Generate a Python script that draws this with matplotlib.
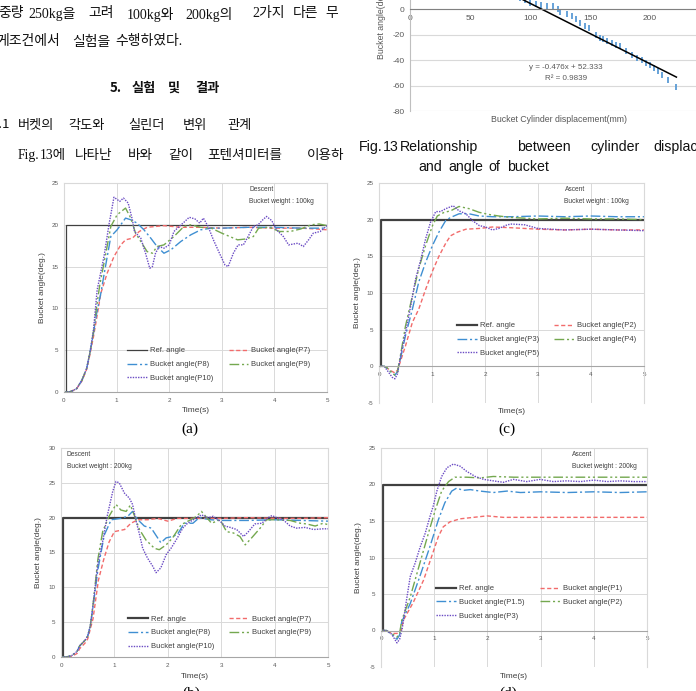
import matplotlib
matplotlib.use('Agg')
import matplotlib.pyplot as plt
import numpy as np

# 참조 값
ref_t = [0, 0.03, 0.03, 5]
ref_y = [0, 0, 20, 20]

# (a) Descent, 100kg
a_t_p7 = [0, 0.1, 0.18, 0.24, 0.34, 0.43, 0.49, 0.56, 0.62, 0.7, 0.82, 0.95, 1.08, 1.17, 1.3, 1.43, 1.58, 1.9, 2.22, 2.6, 3.0, 3.5, 4.0, 4.5, 4.8, 5.0]
a_p7 = [0, 0, 0.2, 0.4, 1.3, 2.7, 4.4, 6.6, 8.8, 11.8, 14.2, 16.2, 17.6, 18.2, 18.4, 19.2, 19.7, 19.9, 19.7, 19.7, 19.6, 19.7, 19.6, 19.6, 19.5, 19.4]
a_t_p8 = [0, 0.1, 0.18, 0.24, 0.34, 0.43, 0.49, 0.56, 0.62, 0.7, 0.76, 0.89, 1.01, 1.17, 1.27, 1.39, 1.52, 1.65, 1.77, 1.9, 2.03, 2.22, 2.41, 2.6, 2.8, 3.0, 3.5, 4.0, 4.5, 5.0]
a_p8 = [0, 0, 0.2, 0.4, 1.4, 2.8, 4.6, 7.0, 9.4, 11.8, 14.0, 18.6, 19.4, 20.8, 20.6, 20.2, 19.4, 18.4, 17.4, 16.6, 17.0, 18.0, 18.8, 19.4, 19.6, 19.6, 19.7, 19.7, 19.6, 19.6]
a_t_p9 = [0, 0.1, 0.18, 0.24, 0.34, 0.43, 0.49, 0.56, 0.62, 0.68, 0.76, 0.89, 1.01, 1.17, 1.27, 1.36, 1.46, 1.58, 1.68, 1.77, 1.9, 2.09, 2.28, 2.41, 2.6, 2.8, 3.0, 3.15, 3.3, 3.45, 3.6, 3.7, 3.9, 4.1, 4.3, 4.5, 4.7, 4.85, 5.0]
a_p9 = [0, 0, 0.2, 0.4, 1.4, 2.8, 4.6, 7.2, 10.2, 12.8, 15.4, 19.8, 21.2, 22.0, 20.8, 19.0, 18.0, 16.8, 16.6, 17.4, 17.6, 18.6, 19.8, 20.0, 19.7, 19.6, 19.0, 18.6, 18.2, 18.3, 18.6, 19.6, 19.7, 19.2, 19.2, 19.5, 20.0, 20.1, 19.9]
a_t_p10 = [0, 0.1, 0.18, 0.24, 0.34, 0.43, 0.49, 0.56, 0.63, 0.76, 0.86, 0.95, 1.06, 1.13, 1.22, 1.3, 1.34, 1.46, 1.55, 1.63, 1.68, 1.74, 1.81, 1.9, 2.0, 2.09, 2.19, 2.28, 2.38, 2.49, 2.58, 2.65, 2.74, 2.84, 2.97, 3.06, 3.12, 3.22, 3.31, 3.41, 3.5, 3.6, 3.69, 3.78, 3.85, 3.95, 4.04, 4.17, 4.27, 4.36, 4.45, 4.55, 4.65, 4.74, 4.87, 5.0]
a_p10 = [0, 0, 0.2, 0.4, 1.4, 2.8, 4.6, 7.4, 12.2, 16.2, 20.2, 23.3, 22.8, 23.2, 22.6, 20.6, 19.2, 18.4, 16.6, 14.8, 15.0, 16.6, 17.4, 17.2, 17.6, 19.2, 19.8, 20.3, 20.9, 20.7, 20.2, 20.8, 19.8, 18.2, 16.4, 15.2, 15.0, 16.6, 17.6, 17.6, 18.6, 19.8, 20.0, 20.6, 21.0, 20.5, 19.4, 18.6, 17.6, 17.7, 17.8, 17.4, 18.2, 19.0, 19.2, 19.9]

# (b) Descent, 200kg
b_t_p7 = [0, 0.1, 0.2, 0.3, 0.35, 0.45, 0.5, 0.6, 0.7, 0.8, 0.9, 1.0, 1.19, 1.31, 1.44, 1.62, 1.81, 2.0, 2.18, 2.5, 3.0, 3.5, 4.0, 4.5, 5.0]
b_p7 = [0, 0, 0.1, 0.5, 1.2, 2.0, 2.6, 5.5, 11.0, 14.0, 16.5, 18.0, 18.3, 19.2, 19.7, 19.7, 19.9, 19.5, 19.9, 19.9, 19.9, 20.0, 19.9, 19.9, 20.0]
b_t_p8 = [0, 0.1, 0.2, 0.3, 0.35, 0.45, 0.5, 0.55, 0.6, 0.69, 0.81, 0.94, 1.12, 1.25, 1.34, 1.44, 1.56, 1.69, 1.81, 1.87, 1.97, 2.09, 2.18, 2.31, 2.47, 2.59, 2.8, 3.0, 3.5, 4.0, 4.5, 5.0]
b_p8 = [0, 0, 0.2, 0.8, 1.6, 2.4, 3.0, 4.5, 7.2, 12.5, 17.5, 19.7, 19.9, 20.2, 20.9, 19.7, 18.8, 18.5, 17.1, 16.4, 17.1, 17.3, 17.6, 19.2, 19.2, 20.0, 19.7, 19.6, 19.6, 19.7, 19.6, 19.5]
b_t_p9 = [0, 0.1, 0.2, 0.3, 0.35, 0.45, 0.5, 0.55, 0.6, 0.69, 0.78, 0.9, 1.03, 1.12, 1.22, 1.3, 1.37, 1.47, 1.59, 1.75, 1.84, 1.97, 2.09, 2.25, 2.43, 2.54, 2.63, 2.73, 2.82, 2.98, 3.1, 3.23, 3.35, 3.45, 3.57, 3.73, 3.85, 4.04, 4.29, 4.48, 4.6, 4.76, 4.91, 5.0]
b_p9 = [0, 0, 0.2, 0.8, 1.6, 2.4, 3.0, 4.5, 7.5, 14.0, 18.0, 20.2, 21.9, 21.1, 20.9, 21.8, 20.4, 18.3, 16.8, 15.6, 15.4, 16.1, 17.1, 19.0, 19.7, 20.2, 20.9, 20.0, 19.2, 19.7, 18.0, 17.8, 17.3, 16.1, 17.1, 18.5, 19.7, 19.7, 19.6, 19.2, 19.1, 18.8, 19.2, 19.0]
b_t_p10 = [0, 0.1, 0.2, 0.3, 0.35, 0.45, 0.5, 0.55, 0.6, 0.69, 0.78, 0.87, 0.97, 1.03, 1.09, 1.19, 1.28, 1.34, 1.4, 1.47, 1.53, 1.62, 1.72, 1.78, 1.87, 1.97, 2.06, 2.18, 2.28, 2.37, 2.54, 2.63, 2.76, 2.85, 2.98, 3.07, 3.17, 3.29, 3.42, 3.51, 3.63, 3.76, 3.88, 3.95, 4.04, 4.16, 4.29, 4.41, 4.57, 4.73, 4.91, 5.0]
b_p10 = [0, 0, 0.2, 0.8, 1.6, 2.4, 3.0, 4.5, 7.5, 13.3, 16.6, 20.4, 23.8, 25.2, 25.0, 23.5, 22.8, 21.9, 19.7, 17.6, 15.6, 14.2, 13.0, 12.1, 12.8, 14.7, 15.6, 17.1, 18.5, 19.2, 20.0, 20.4, 20.0, 20.2, 19.5, 18.8, 18.6, 18.3, 17.3, 18.0, 19.1, 19.2, 20.0, 20.3, 20.0, 19.7, 18.8, 18.5, 18.6, 18.3, 18.4, 18.4]

# (c) Ascent, 100kg
c_t_p2 = [0, 0.1, 0.15, 0.2, 0.3, 0.35, 0.41, 0.5, 0.63, 0.75, 0.88, 1.01, 1.13, 1.26, 1.35, 1.48, 1.64, 1.89, 2.14, 2.5, 3.0, 3.5, 4.0, 4.5, 5.0]
c_p2 = [0, 0, -0.2, -0.5, -0.9, -0.5, 0.8, 2.8, 6.0, 7.8, 10.5, 13.0, 15.0, 16.8, 17.8, 18.3, 18.7, 18.8, 19.0, 18.9, 18.7, 18.6, 18.7, 18.6, 18.6]
c_t_p3 = [0, 0.1, 0.15, 0.2, 0.3, 0.35, 0.41, 0.5, 0.63, 0.75, 0.88, 1.01, 1.13, 1.26, 1.35, 1.51, 1.7, 1.89, 2.14, 2.5, 3.0, 3.5, 4.0, 4.5, 5.0]
c_p3 = [0, 0, -0.2, -0.6, -1.2, -0.7, 1.2, 4.2, 7.8, 11.5, 14.2, 16.5, 18.3, 19.9, 20.3, 20.8, 20.8, 20.5, 20.4, 20.4, 20.5, 20.4, 20.5, 20.4, 20.4]
c_t_p4 = [0, 0.1, 0.15, 0.2, 0.3, 0.35, 0.41, 0.5, 0.63, 0.75, 0.88, 1.01, 1.1, 1.23, 1.35, 1.51, 1.7, 1.89, 2.08, 2.26, 2.5, 3.0, 3.5, 4.0, 4.5, 5.0]
c_p4 = [0, 0, -0.2, -0.6, -1.2, -0.7, 1.7, 5.5, 9.6, 13.3, 16.5, 19.2, 20.5, 21.0, 21.2, 21.8, 21.5, 21.0, 20.7, 20.5, 20.3, 20.1, 20.2, 20.1, 20.1, 20.0]
c_t_p5 = [0, 0.1, 0.16, 0.25, 0.3, 0.35, 0.41, 0.5, 0.6, 0.69, 0.79, 0.88, 0.97, 1.07, 1.16, 1.26, 1.33, 1.4, 1.51, 1.64, 1.76, 1.89, 2.01, 2.14, 2.26, 2.42, 2.5, 2.75, 2.9, 3.0, 3.5, 4.0, 4.5, 5.0]
c_p5 = [0, 0, -0.6, -1.5, -1.7, -1.0, 1.5, 4.6, 8.3, 11.9, 14.6, 17.4, 19.6, 21.1, 21.1, 21.5, 21.7, 21.9, 21.2, 20.8, 19.9, 19.2, 19.0, 18.6, 18.8, 19.3, 19.4, 19.3, 19.0, 18.8, 18.6, 18.7, 18.6, 18.5]

# (d) Ascent, 200kg
d_t_p1 = [0, 0.1, 0.15, 0.2, 0.3, 0.38, 0.42, 0.61, 0.8, 0.95, 1.08, 1.17, 1.3, 1.49, 1.74, 1.99, 2.3, 3.0, 3.5, 4.0, 4.5, 5.0]
d_p1 = [0, 0, -0.2, -0.4, -0.4, 0, 1.4, 3.9, 6.9, 10.1, 12.9, 14.2, 14.9, 15.3, 15.5, 15.7, 15.5, 15.5, 15.5, 15.5, 15.5, 15.5]
d_t_p15 = [0, 0.1, 0.2, 0.3, 0.35, 0.39, 0.55, 0.73, 0.92, 1.08, 1.2, 1.33, 1.42, 1.55, 1.68, 1.86, 2.11, 2.37, 2.62, 3.0, 3.5, 4.0, 4.5, 5.0]
d_p15 = [0, 0, -0.5, -1.2, -0.6, 1.2, 3.7, 7.4, 11.5, 15.2, 17.5, 19.1, 19.5, 19.2, 19.3, 19.1, 18.9, 19.1, 18.9, 19.0, 18.9, 19.0, 18.9, 19.0]
d_t_p2 = [0, 0.1, 0.2, 0.3, 0.35, 0.39, 0.55, 0.73, 0.89, 1.02, 1.14, 1.27, 1.39, 1.61, 1.86, 2.11, 2.5, 3.0, 3.5, 4.0, 4.5, 5.0]
d_p2 = [0, 0, -0.4, -0.9, -0.4, 1.4, 4.6, 9.2, 13.3, 16.5, 19.1, 20.4, 21.0, 21.0, 20.9, 21.1, 21.0, 21.0, 21.0, 21.0, 21.0, 21.0]
d_t_p3 = [0, 0.1, 0.2, 0.3, 0.35, 0.4, 0.48, 0.55, 0.64, 0.73, 0.83, 0.92, 0.98, 1.05, 1.14, 1.24, 1.36, 1.49, 1.61, 1.77, 1.93, 2.11, 2.3, 2.49, 2.74, 2.99, 3.24, 3.49, 3.75, 4.0, 4.25, 4.5, 4.75, 5.0]
d_p3 = [0, 0, -0.5, -1.7, -1.2, 0.3, 4.2, 7.4, 9.2, 11.3, 13.3, 15.6, 17.0, 19.1, 21.1, 22.3, 22.8, 22.5, 21.8, 21.1, 20.7, 20.5, 20.3, 20.7, 20.4, 20.7, 20.4, 20.5, 20.4, 20.6, 20.4, 20.5, 20.4, 20.4]

# Fig. 13 (실린더 변위 - 버켓 각도)
disp_mm = [92, 96, 100, 105, 109, 114, 119, 123, 125, 131, 135, 138, 142, 146, 149, 155, 158, 161, 164, 168, 172, 175, 180, 185, 189, 193, 197, 200, 203, 207, 210, 215, 222]
angle_deg = [9, 7.5, 5.3, 4.0, 3.2, 2.6, 2.6, 0.0, -2.1, -4.0, -5.3, -7.4, -10.6, -13.2, -14.5, -20.0, -22.4, -23.2, -24.6, -26.4, -27.7, -29.0, -33.0, -35.6, -38.3, -40.0, -42.2, -43.6, -46.2, -48.8, -51.5, -55.4, -61.3]
fit_slope = -0.476
fit_intercept = 52.333

W, H = 696, 691
fig = plt.figure(figsize=(W / 100, H / 100), dpi=100)
plt.rcParams['font.family'] = ['Liberation Sans', 'Noto Sans CJK KR']
plt.rcParams['axes.unicode_minus'] = False

KR_SERIF = ['Liberation Serif', 'Noto Sans CJK KR']
KR_SANS = ['Noto Sans CJK KR', 'Liberation Sans']

RED = '#f26b6b'
BLUE = '#3f8fd2'
GREEN = '#74a84f'
PURPLE = '#6a4bc4'


def px_axes(x0, y0, x1, y1):
    return fig.add_axes([x0 / W, 1 - y1 / H, (x1 - x0) / W, (y1 - y0) / H])


def ptext(x, y, s, **kw):
    fig.text(x / W, 1 - y / H, s, **kw)


# --- 본문 텍스트 ---
line1 = [(-2, '중량'), (28, '250kg을'), (88, '고려'), (127, '100kg와'), (185, '200kg의'), (252, '2가지'), (293, '다른'), (325, '무')]
line2 = [(-4, '게조건에서'), (72, '실험을'), (115, '수행하였다.')]
head = [(110, '5.'), (132, '실험'), (168, '및'), (195, '결과')]
line3 = [(-8, '5.1'), (18, '버켓의'), (68, '각도와'), (128, '실린더'), (183, '변위'), (227, '관계')]
line4 = [(18, 'Fig.'), (40, '13에'), (75, '나타난'), (128, '바와'), (168, '같이'), (207, '포텐셔미터를'), (307, '이용하')]
for x, w in line1:
    ptext(x, 14, w, family=KR_SERIF, fontsize=10, va='center', color='#111111')
for x, w in line2:
    ptext(x, 42, w, family=KR_SERIF, fontsize=10, va='center', color='#111111')
for x, w in head:
    ptext(x, 88, w, family=KR_SANS, fontsize=9.5, fontweight='bold', va='center', color='#111111')
for x, w in line3:
    ptext(x, 125, w, family=KR_SANS, fontsize=9.5, va='center', color='#111111')
for x, w in line4:
    ptext(x, 155, w, family=KR_SERIF, fontsize=9.8, va='center', color='#111111')

cap1 = [(359, 'Fig.'), (383, '13'), (400, 'Relationship'), (517, 'between'), (590, 'cylinder'), (653, 'displacement')]
cap2 = [(418, 'and'), (448, 'angle'), (488, 'of'), (507, 'bucket')]
for x, w in cap1:
    ptext(x, 147, w, family='Liberation Sans', fontsize=10.2, va='center', color='#111111')
for x, w in cap2:
    ptext(x, 167, w, family='Liberation Sans', fontsize=10.2, va='center', color='#111111')

ptext(190, 429, '(a)', family='Liberation Serif', fontsize=11, ha='center', va='center')
ptext(507, 429, '(c)', family='Liberation Serif', fontsize=11, ha='center', va='center')
ptext(191, 693, '(b)', family='Liberation Serif', fontsize=11, ha='center', va='center')
ptext(508, 693, '(d)', family='Liberation Serif', fontsize=11, ha='center', va='center')

# --- Fig. 13 (상단 오른쪽) ---
ax0 = px_axes(410, -67, 710, 111)
ax0.set_xlim(0, 250)
ax0.set_ylim(-80, 60)
ax0.set_yticks(np.arange(-80, 61, 20))
ax0.set_xticks(np.arange(0, 251, 50))
ax0.grid(True, axis='y', color='#d9d9d9', lw=0.8)
ax0.set_axisbelow(True)
for s in ['top', 'right']:
    ax0.spines[s].set_visible(False)
ax0.spines['left'].set_color('#bfbfbf')
ax0.spines['bottom'].set_position(('data', 0))
ax0.spines['bottom'].set_color('#808080')
ax0.tick_params(length=0, labelsize=6, labelcolor='#595959', pad=4)
ax0.plot(disp_mm, angle_deg, ls='none', marker='|', ms=5, mew=1.3, color='#5b9bd5')
fx = np.array([80, max(disp_mm)])
ax0.plot(fx, fit_slope * fx + fit_intercept, color='black', lw=1.1)
ax0.text(130, -46, 'y = -0.476x + 52.333', fontsize=5.8, color='#595959', ha='center', va='center')
ax0.text(130, -54.5, 'R² = 0.9839', fontsize=5.8, color='#595959', ha='center', va='center')
ptext(559, 119, 'Bucket Cylinder displacement(mm)', fontsize=6.3, color='#595959', ha='center', va='center')
ptext(381, 22, 'Bucket angle(deg.)', fontsize=6.3, color='#595959', ha='center', va='center', rotation=90)


def style_chart(ax, ymin, ymax, ystep, neg):
    ax.set_xlim(0, 5)
    ax.set_ylim(ymin, ymax)
    ax.set_xticks(range(6))
    ax.set_yticks(np.arange(ymin, ymax + 1, ystep))
    ax.grid(True, color='#d9d9d9', lw=0.7)
    ax.set_axisbelow(True)
    for s in ax.spines.values():
        s.set_color('#d9d9d9')
        s.set_linewidth(0.8)
    if neg:
        ax.spines['bottom'].set_position(('data', 0))
    ax.spines['bottom'].set_color('#a6a6a6')
    ax.tick_params(length=0, labelsize=4.5, labelcolor='#595959', pad=4)


def draw_panel(box, ylims, series, labels, ref_lw, ann, ann_xy, leg_xy):
    x0, y0, x1, y1 = box
    ax = px_axes(x0, y0, x1, y1)
    style_chart(ax, ylims[0], ylims[1], 5, ylims[0] < 0)
    hs = []
    h, = ax.plot(ref_t, ref_y, color='#404040', lw=ref_lw)
    hs.append(h)
    styles = [(RED, (3, 1.8)), (BLUE, (7, 2, 1.5, 2)), (GREEN, (7, 2, 1.5, 2, 1.5, 2)), (PURPLE, (1, 0.9))]
    for (t, y), (c, d) in zip(series, styles):
        h, = ax.plot(t, y, color=c, lw=1.0, dashes=d)
        hs.append(h)
    order = [0, 2, 4, 1, 3]
    ax.legend([hs[i] for i in order], [labels[i] for i in order], ncol=2, frameon=False,
              fontsize=5.5, loc='upper left', bbox_to_anchor=leg_xy, borderpad=0,
              handlelength=2.6, handletextpad=0.4, columnspacing=2.0, labelspacing=0.85,
              borderaxespad=0, labelcolor='#404040')
    ax.text(ann_xy[0], ann_xy[1], ann, transform=ax.transAxes, fontsize=4.8, color='#404040',
            va='top', ha='left', linespacing=1.9)
    ptext((x0 + x1) / 2, y1 + 19 if ylims[0] == 0 else y1 + 9, 'Time(s)', fontsize=6, color='#404040',
          ha='center', va='center')
    ptext(x0 - 22, (y0 + y1) / 2, 'Bucket angle(deg.)', fontsize=6, color='#404040',
          ha='center', va='center', rotation=90)
    return ax


draw_panel((64, 183, 327, 392), (0, 25),
           [(a_t_p7, a_p7), (a_t_p8, a_p8), (a_t_p9, a_p9), (a_t_p10, a_p10)],
           ['Ref. angle', 'Bucket angle(P7)', 'Bucket angle(P8)', 'Bucket angle(P9)', 'Bucket angle(P10)'],
           0.9, 'Descent\nBucket weight : 100kg', (0.705, 0.985), (0.24, 0.215))

draw_panel((61, 448, 328, 657), (0, 30),
           [(b_t_p7, b_p7), (b_t_p8, b_p8), (b_t_p9, b_p9), (b_t_p10, b_p10)],
           ['Ref. angle', 'Bucket angle(P7)', 'Bucket angle(P8)', 'Bucket angle(P9)', 'Bucket angle(P10)'],
           1.6, 'Descent\nBucket weight : 200kg', (0.022, 0.985), (0.25, 0.2))

draw_panel((379, 183, 644, 403), (-5, 25),
           [(c_t_p2, c_p2), (c_t_p3, c_p3), (c_t_p4, c_p4), (c_t_p5, c_p5)],
           ['Ref. angle', 'Bucket angle(P2)', 'Bucket angle(P3)', 'Bucket angle(P4)', 'Bucket angle(P5)'],
           1.6, 'Ascent\nBucket weight : 100kg', (0.7, 0.985), (0.294, 0.368))

draw_panel((381, 448, 647, 667), (-5, 25),
           [(d_t_p1, d_p1), (d_t_p15, d_p15), (d_t_p2, d_p2), (d_t_p3, d_p3)],
           ['Ref. angle', 'Bucket angle(P1)', 'Bucket angle(P1.5)', 'Bucket angle(P2)', 'Bucket angle(P3)'],
           1.6, 'Ascent\nBucket weight : 200kg', (0.718, 0.985), (0.207, 0.375))

fig.savefig('out.png', dpi=100)
